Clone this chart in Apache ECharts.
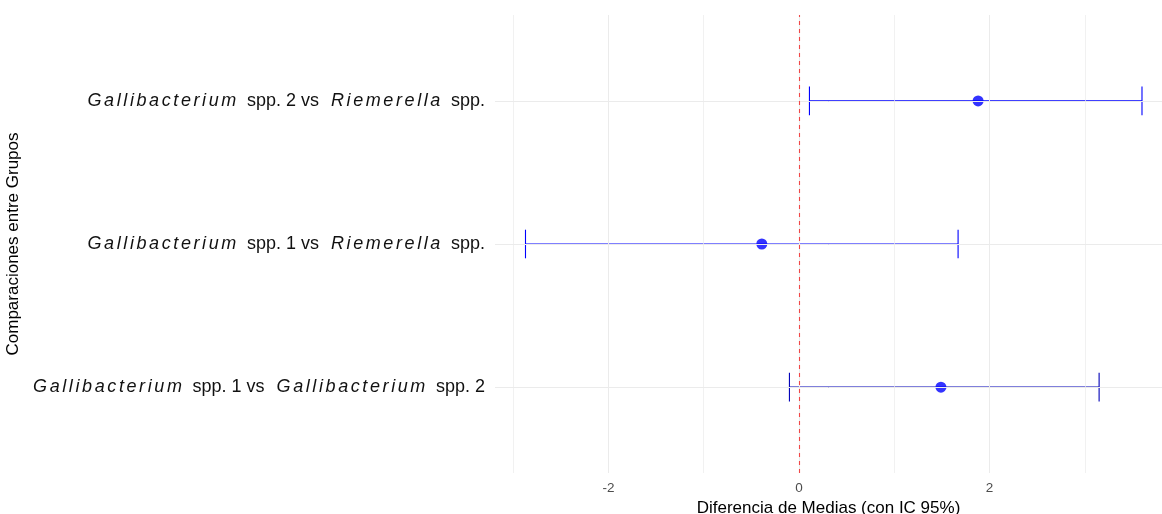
<!DOCTYPE html>
<html>
<head>
<meta charset="utf-8">
<script src="https://cdn.jsdelivr.net/npm/echarts@6/dist/echarts.min.js"></script>
<style>
  html, body { margin: 0; padding: 0; background: #ffffff; overflow: hidden; }
  #chart { width: 1162px; height: 514px; }
</style>
</head>
<body>
<div id="chart"></div>
<script>
// Pairwise comparisons, bottom to top (y positions 1, 2, 3)
const comparisons = [
  ['Gallibacterium', ' spp. 1 vs ', 'Gallibacterium', ' spp. 2'],
  ['Gallibacterium', ' spp. 1 vs ', 'Riemerella', ' spp.'],
  ['Gallibacterium', ' spp. 2 vs ', 'Riemerella', ' spp.']
];
// Difference of means and 95% confidence limits
const meanDiff = [1.49, -0.39, 1.88];
const ciLower = [-0.10, -2.87, 0.11];
const ciUpper = [3.15, 1.67, 3.60];
// Axis ticks and labels
const xTickLabels = [-2, 0, 2];
const xGridValues = [-3, -2, -1, 0, 1, 2, 3];
const xTitle = 'Diferencia de Medias (con IC 95%)';
const yTitle = 'Comparaciones entre Grupos';

// Genus names are set in letter-spaced italics; apply the spacing to both
// measuring and drawing so rich-text layout stays consistent.
(function () {
  const proto = CanvasRenderingContext2D.prototype;
  if (!('letterSpacing' in proto)) return;
  const origFill = proto.fillText;
  const origMeasure = proto.measureText;
  const spacingFor = ctx => (/italic/.test(ctx.font) ? '2.6px' : '0px');
  proto.fillText = function () {
    this.letterSpacing = spacingFor(this);
    return origFill.apply(this, arguments);
  };
  proto.measureText = function () {
    this.letterSpacing = spacingFor(this);
    return origMeasure.apply(this, arguments);
  };
})();

const chart = echarts.init(document.getElementById('chart'), null, { renderer: 'canvas' });

const FONT = "'Liberation Sans', Arial, sans-serif";
const rowPos = comparisons.map((_, i) => i + 1);

function labelFor(v) {
  const p = comparisons[Math.round(v) - 1];
  if (!p) return '';
  return '{i|' + p[0] + '}' + p[1] + '{i|' + p[2] + '}' + p[3];
}

const errorData = rowPos.map((y, i) => [ciLower[i], ciUpper[i], y]);
const pointData = rowPos.map((y, i) => [meanDiff[i], y]);

chart.setOption({
  backgroundColor: '#ffffff',
  animation: false,
  grid: { left: 495, right: 0, top: 15, bottom: 41, outerBoundsMode: 'none', containLabel: false },
  xAxis: {
    type: 'value',
    min: -3.19,
    max: 3.81,
    axisLine: { show: false },
    axisTick: { show: false },
    splitLine: { show: false },
    axisLabel: {
      customValues: xTickLabels,
      color: '#4d4d4d',
      fontSize: 13.5,
      fontFamily: FONT,
      margin: 8
    },
    name: xTitle,
    nameLocation: 'middle',
    nameGap: 24,
    nameTextStyle: { color: '#000000', fontSize: 17, fontFamily: FONT }
  },
  yAxis: {
    type: 'value',
    min: 0.4,
    max: 3.6,
    axisLine: { show: false },
    axisTick: { show: false },
    splitLine: { show: false },
    axisLabel: {
      customValues: rowPos,
      formatter: labelFor,
      color: '#111111',
      fontSize: 18,
      fontFamily: FONT,
      margin: 10,
      rich: {
        i: { fontStyle: 'italic', fontSize: 18, fontFamily: FONT, color: '#111111', padding: [0, 3, 0, 7] }
      }
    },
    name: yTitle,
    nameLocation: 'middle',
    nameGap: 463,
    nameRotate: 90,
    nameTextStyle: { color: '#000000', fontSize: 17, fontFamily: FONT }
  },
  series: [
    {
      // panel grid lines
      type: 'scatter',
      data: [],
      silent: true,
      z: 0,
      markLine: {
        silent: true,
        symbol: ['none', 'none'],
        label: { show: false },
        animation: false,
        lineStyle: { color: '#ebebeb', width: 1, type: 'solid' },
        data: xGridValues.map(v => ({ xAxis: v, lineStyle: { width: v % 2 === 0 ? 1 : 0.7 } }))
          .concat(rowPos.map(v => ({ yAxis: v })))
      }
    },
    {
      type: 'custom',
      data: errorData,
      z: 2,
      silent: true,
      renderItem: function (params, api) {
        const lo = api.value(0), hi = api.value(1), y = api.value(2);
        const a = api.coord([lo, y]);
        const b = api.coord([hi, y]);
        const capTop = api.coord([lo, y + 0.1])[1];
        const capBot = api.coord([lo, y - 0.1])[1];
        const color = params.dataIndex === 0 ? '#0000b8' : '#0000ff';
        const style = { stroke: color, lineWidth: 1.1 };
        return {
          type: 'group',
          children: [
            { type: 'line', shape: { x1: a[0], y1: a[1], x2: b[0], y2: b[1] }, style: style },
            { type: 'line', shape: { x1: a[0], y1: capTop, x2: a[0], y2: capBot }, style: style },
            { type: 'line', shape: { x1: b[0], y1: capTop, x2: b[0], y2: capBot }, style: style }
          ]
        };
      }
    },
    {
      type: 'scatter',
      data: pointData,
      symbol: 'circle',
      symbolSize: 11,
      z: 3,
      silent: true,
      itemStyle: { color: '#0000ff' }
    },
    {
      // reference line at zero difference
      type: 'scatter',
      data: [],
      z: 4,
      silent: true,
      markLine: {
        silent: true,
        symbol: ['none', 'none'],
        label: { show: false },
        animation: false,
        lineStyle: { color: '#f04848', width: 1.1, type: [4, 4] },
        data: [{ xAxis: 0 }]
      }
    }
  ]
});
</script>
</body>
</html>
